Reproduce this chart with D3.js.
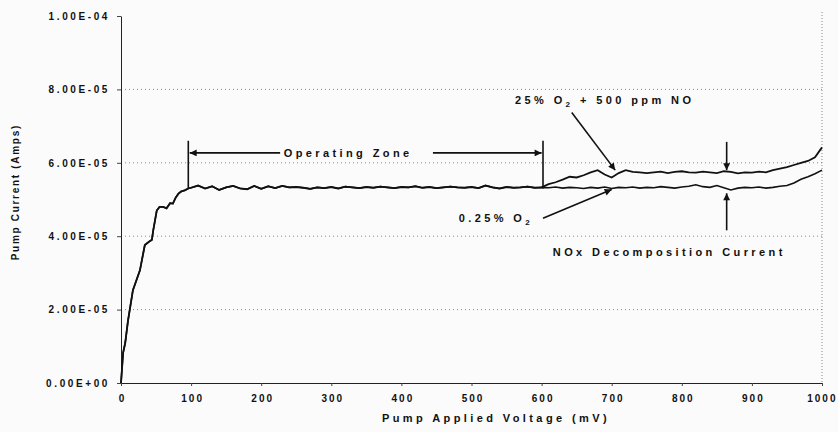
<!DOCTYPE html>
<html>
<head>
<meta charset="utf-8">
<script src="https://cdn.jsdelivr.net/npm/d3@7"></script>
<style>
  body { margin: 0; background: #fbfbfb; }
  svg { display: block; }
  text { font-family: "Liberation Sans", Arial, sans-serif; font-weight: bold; fill: #111; }
</style>
</head>
<body>
<div id="chart"></div>
<script>
// rising part, shared by both runs (mV, A x1e-5)
const rampV = [0, 3, 6, 10, 17, 22, 27, 34, 40, 44, 46, 51, 55, 60, 65, 70, 74, 78, 82, 86, 91, 96]
const rampI = [0, 0.82, 1.09, 1.7, 2.53, 2.8, 3.07, 3.76, 3.85, 3.9, 4.16, 4.7, 4.8, 4.8, 4.76, 4.9, 4.89, 5.05, 5.16, 5.22, 5.25, 5.3]

// plateau, shared up to 600 mV
const flatV = [100, 110, 120, 130, 140, 150, 160, 170, 180, 190, 200, 210, 220, 230, 240, 250, 260, 270, 280, 290,
    300, 310, 320, 330, 340, 350, 360, 370, 380, 390, 400, 410, 420, 430, 440, 450, 460, 470, 480, 490,
    500, 510, 520, 530, 540, 550, 560, 570, 580, 590, 600]
const flatI = [5.32, 5.38, 5.3, 5.36, 5.26, 5.33, 5.37, 5.3, 5.28, 5.37, 5.29, 5.36, 5.31, 5.37, 5.33, 5.34, 5.32, 5.29, 5.33, 5.31,
    5.34, 5.3, 5.35, 5.33, 5.31, 5.34, 5.32, 5.35, 5.33, 5.31, 5.34, 5.33, 5.36, 5.32, 5.34, 5.31, 5.33, 5.35, 5.33, 5.32,
    5.34, 5.31, 5.38, 5.33, 5.3, 5.34, 5.32, 5.33, 5.35, 5.32, 5.33]

// after 600 mV the two gas mixes split
const tailV = [610, 620, 630, 640, 650, 660, 670, 680, 690, 700, 710, 720, 730, 740, 750, 760, 770, 780, 790, 800,
    810, 820, 830, 840, 850, 860, 870, 880, 890, 900, 910, 920, 930, 940, 950, 960, 970, 980, 990, 1000]
const tailO2 = [5.32, 5.34, 5.31, 5.33, 5.32, 5.3, 5.33, 5.31, 5.34, 5.3, 5.33, 5.32, 5.34, 5.31, 5.33, 5.32, 5.35, 5.33, 5.31, 5.34,
    5.36, 5.4, 5.35, 5.33, 5.38, 5.32, 5.26, 5.31, 5.33, 5.32, 5.34, 5.31, 5.33, 5.36, 5.38, 5.45, 5.55, 5.62, 5.7, 5.8]
const tailNO = [5.42, 5.47, 5.54, 5.62, 5.6, 5.66, 5.74, 5.8, 5.68, 5.6, 5.72, 5.8, 5.75, 5.74, 5.72, 5.74, 5.76, 5.72, 5.75, 5.77,
    5.74, 5.73, 5.76, 5.74, 5.72, 5.77, 5.75, 5.71, 5.74, 5.73, 5.76, 5.74, 5.8, 5.84, 5.88, 5.94, 6.0, 6.05, 6.15, 6.42]

const yTicks = [0, 2e-5, 4e-5, 6e-5, 8e-5, 1e-4]
const yTickLabels = ["0.00E+00", "2.00E-05", "4.00E-05", "6.00E-05", "8.00E-05", "1.00E-04"]
const xTicks = [0, 100, 200, 300, 400, 500, 600, 700, 800, 900, 1000]

const width = 838
const height = 432
const margin = { top: 16, right: 16, bottom: 49, left: 121 }

const svg = d3.select("#chart")
    .append("svg")
    .attr("width", width)
    .attr("height", height)

const defs = svg.append("defs")
defs.append("marker")
    .attr("id", "head")
    .attr("viewBox", "0 0 10 10")
    .attr("refX", 10)
    .attr("refY", 5)
    .attr("markerWidth", 8)
    .attr("markerHeight", 7)
    .attr("markerUnits", "userSpaceOnUse")
    .attr("orient", "auto")
    .append("path")
    .attr("d", "M0,0 L10,5 L0,10 Z")
    .attr("fill", "#111")

const x = d3.scaleLinear()
    .domain([0, 1000])
    .range([margin.left, width - margin.right])

const y = d3.scaleLinear()
    .domain([0, 1e-4])
    .range([height - margin.bottom, margin.top])

// grid
svg.append("g")
    .selectAll("line")
    .data(yTicks.slice(1, -1))
    .join("line")
    .attr("x1", x(0))
    .attr("x2", x(1000))
    .attr("y1", d => y(d))
    .attr("y2", d => y(d))
    .attr("stroke", "#888")
    .attr("stroke-dasharray", "1,3")

svg.append("line")
    .attr("x1", x(1000)).attr("x2", x(1000))
    .attr("y1", y(1e-4) - 4).attr("y2", y(0))
    .attr("stroke", "#888")
    .attr("stroke-dasharray", "1,2")

// axes
const yAxis = d3.axisLeft(y)
    .tickValues(yTicks)
    .tickFormat((d, i) => yTickLabels[i])
    .tickSize(4)
    .tickSizeOuter(0)
    .tickPadding(7)

const yg = svg.append("g")
    .attr("transform", `translate(${x(0)},0)`)
    .call(yAxis)
yg.selectAll("text")
    .style("font-size", "10px")
    .style("letter-spacing", "2.6px")
    .style("font-family", "'Liberation Sans', Arial, sans-serif")
    .style("font-weight", "bold")
    .attr("fill", "#111")

const xAxis = d3.axisBottom(x)
    .tickValues(xTicks)
    .tickFormat(d3.format("d"))
    .tickSize(3)
    .tickSizeOuter(0)
    .tickPadding(9)

const xg = svg.append("g")
    .attr("transform", `translate(0,${y(0)})`)
    .call(xAxis)
xg.selectAll("text")
    .style("font-size", "10px")
    .style("letter-spacing", "2px")
    .style("font-family", "'Liberation Sans', Arial, sans-serif")
    .style("font-weight", "bold")
    .attr("fill", "#111")
    .attr("dx", "1px")
// last label sits at the window edge
xg.selectAll(".tick:last-of-type text")
    .attr("text-anchor", "end")
    .attr("dx", "15px")

svg.selectAll(".domain").attr("stroke", "#222")
svg.selectAll(".tick line").attr("stroke", "#444")

// axis titles
svg.append("text")
    .attr("x", x(535))
    .attr("y", height - 10)
    .attr("text-anchor", "middle")
    .style("font-size", "11px")
    .style("letter-spacing", "3.4px")
    .text("Pump Applied Voltage  (mV)")

svg.append("text")
    .attr("transform", `translate(19,${y(5.2e-5)}) rotate(-90)`)
    .attr("text-anchor", "middle")
    .style("font-size", "10px")
    .style("letter-spacing", "1.7px")
    .text("Pump Current (Amps)")

// curves
const o2Data = []
const noData = []
rampV.forEach((v, i) => { o2Data.push([v, rampI[i]]); noData.push([v, rampI[i]]) })
flatV.forEach((v, i) => { o2Data.push([v, flatI[i]]); noData.push([v, flatI[i]]) })
tailV.forEach((v, i) => { o2Data.push([v, tailO2[i]]); noData.push([v, tailNO[i]]) })

const line = d3.line()
    .x(d => x(d[0]))
    .y(d => y(d[1] * 1e-5))

svg.append("path")
    .datum(noData)
    .attr("d", line)
    .attr("fill", "none")
    .attr("stroke", "#111")
    .attr("stroke-width", 1.8)

svg.append("path")
    .datum(o2Data)
    .attr("d", line)
    .attr("fill", "none")
    .attr("stroke", "#111")
    .attr("stroke-width", 1.6)

// annotations (data space: mV, A x1e-5)
const zoneEdges = [96, 602]
const zoneTop = 6.6
const zoneArrowI = 6.27

const ann = svg.append("g")

ann.selectAll(".edge")
    .data(zoneEdges)
    .join("line")
    .attr("x1", d => x(d)).attr("x2", d => x(d))
    .attr("y1", y(zoneTop * 1e-5)).attr("y2", y(5.3e-5))
    .attr("stroke", "#111")
    .attr("stroke-width", 1.6)

const arrows = [
    { from: [227, zoneArrowI], to: [98, zoneArrowI] },
    { from: [445, zoneArrowI], to: [600, zoneArrowI] },
    { from: [643, 7.37], to: [705, 5.8] },
    { from: [602, 4.49], to: [700, 5.27] },
    { from: [864, 6.57], to: [864, 5.8] },
    { from: [864, 4.16], to: [864, 5.17] }
]

ann.selectAll(".arrow")
    .data(arrows)
    .join("line")
    .attr("x1", d => x(d.from[0]))
    .attr("y1", d => y(d.from[1] * 1e-5))
    .attr("x2", d => x(d.to[0]))
    .attr("y2", d => y(d.to[1] * 1e-5))
    .attr("stroke", "#111")
    .attr("stroke-width", 1.6)
    .attr("marker-end", "url(#head)")

ann.append("text")
    .attr("x", x(324))
    .attr("y", y(zoneArrowI * 1e-5) + 4)
    .attr("text-anchor", "middle")
    .style("font-size", "11px")
    .style("letter-spacing", "3.4px")
    .text("Operating Zone")

const noLabel = ann.append("text")
    .attr("x", x(562))
    .attr("y", y(7.7e-5) + 4)
    .style("font-size", "11px")
    .style("letter-spacing", "3.4px")
noLabel.append("tspan").text("25% O")
noLabel.append("tspan").attr("dy", 3).style("font-size", "8px").text("2")
noLabel.append("tspan").attr("dy", -3).text(" + 500 ppm NO")

const o2Label = ann.append("text")
    .attr("x", x(588))
    .attr("y", y(4.49e-5) + 4)
    .attr("text-anchor", "end")
    .style("font-size", "11px")
    .style("letter-spacing", "3.4px")
o2Label.append("tspan").text("0.25% O")
o2Label.append("tspan").attr("dy", 3).style("font-size", "8px").text("2")

ann.append("text")
    .attr("x", x(616))
    .attr("y", y(3.56e-5) + 4)
    .style("font-size", "11px")
    .style("letter-spacing", "3.4px")
    .text("NOx Decomposition Current")
</script>
</body>
</html>
